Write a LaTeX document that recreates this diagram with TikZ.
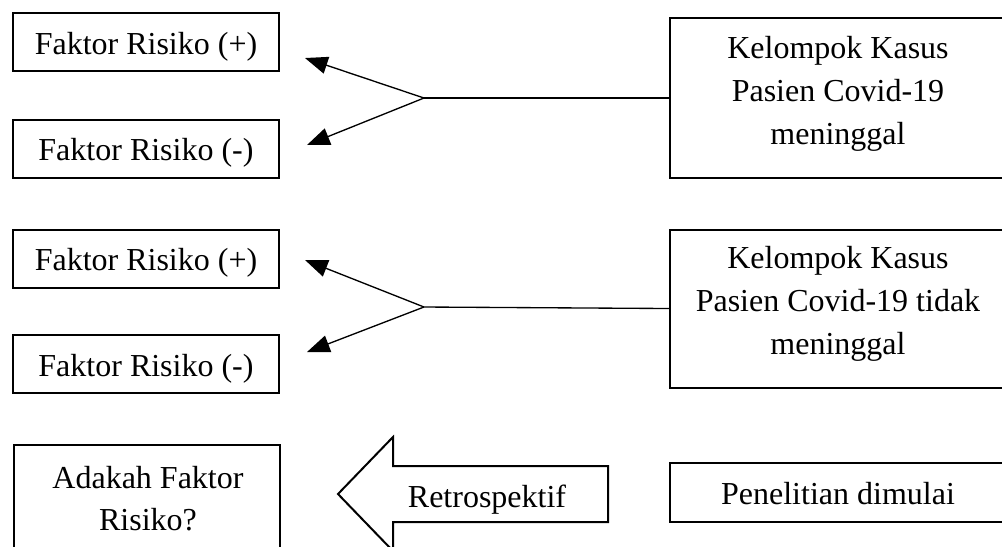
\documentclass[tikz,border=0pt]{standalone}
\usepackage{fontspec}
\setmainfont{Liberation Serif}
\usetikzlibrary{arrows.meta}
\begin{document}
\begin{tikzpicture}[x=0.375pt,y=-0.375pt,
  box/.style={draw,line width=0.75pt,inner sep=0pt},
  txt/.style={font=\fontsize{12}{16}\selectfont,align=center,inner sep=0pt},
  single/.style={text height=11pt,text depth=2pt},
  con/.style={line width=0.5pt},
  arr/.style={con,-{Triangle[length=8.5pt,width=6.5pt]}},
  bigarrow/.style={draw,line width=0.75pt,line join=miter}]
\useasboundingbox (0,0) rectangle (1002,546);
\begin{scope}
\clip (0,0) rectangle (1002,546);
% row 1
\node[box,txt,single,minimum width=99.75pt,minimum height=21.75pt] (fp1) at (146,42) {Faktor Risiko (+)};
\node[box,txt,single,minimum width=99.75pt,minimum height=21.75pt] (fm1) at (146,148.5) {Faktor Risiko (-)};
\node[box,minimum width=126pt,minimum height=60pt] (k1) at (838,98) {};
\node[txt] (k1t) at (838,94) {Kelompok Kasus\\Pasien Covid-19\\meninggal};
\coordinate (j1) at (424,98);
\coordinate (t1a) at (305,58);
\coordinate (t1b) at (307,145);
\draw[con] (k1.west) -- (j1);
\draw[arr] (j1) -- (t1a);
\draw[arr] (j1) -- (t1b);
% row 2
\node[box,txt,single,minimum width=99.75pt,minimum height=21.75pt] (fp2) at (146,258.5) {Faktor Risiko (+)};
\node[box,txt,single,minimum width=99.75pt,minimum height=21.75pt] (fm2) at (146,364) {Faktor Risiko (-)};
\node[box,minimum width=126pt,minimum height=59.25pt] (k2) at (838,308.5) {};
\node[txt] (k2t) at (838,304) {Kelompok Kasus\\Pasien Covid-19 tidak\\meninggal};
\coordinate (j2) at (424,307);
\coordinate (t2a) at (305,260);
\coordinate (t2b) at (307,352);
\draw[con] (k2.west) -- (j2);
\draw[arr] (j2) -- (t2a);
\draw[arr] (j2) -- (t2b);
% row 3
\node[box,minimum width=99.75pt,minimum height=42pt] (ad) at (147,501) {};
\node[txt] (adt) at (148,498.5) {Adakah Faktor\\Risiko?};
\draw[bigarrow] (338,494) -- (393,437) -- (393,466) -- (608,466) -- (608,522) -- (393,522) -- (393,551) -- cycle;
\node[txt,single] (retro) at (487,495) {Retrospektif};
\node[box,txt,single,minimum width=126pt,minimum height=22pt] (pen) at (838,492.5) {Penelitian dimulai};
\end{scope}
\end{tikzpicture}
\end{document}
